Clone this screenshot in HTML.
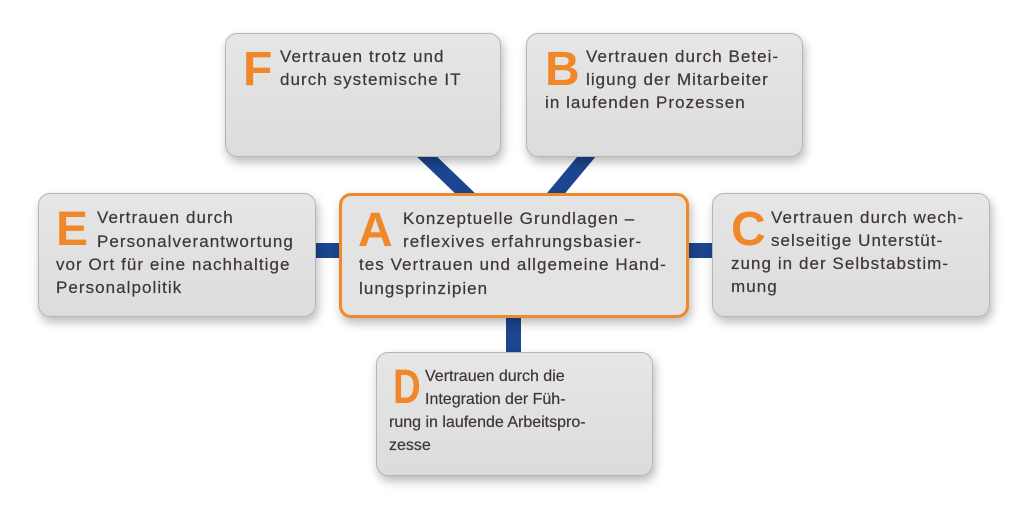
<!DOCTYPE html>
<html><head><meta charset="utf-8"><style>
body{margin:0;width:1024px;height:510px;background:#fff;position:relative;overflow:hidden;font-family:"Liberation Sans",Arial,sans-serif}
.box{position:absolute;background:linear-gradient(#e6e6e6,#dcdcdc);border:1.5px solid #b5b5b5;border-radius:12px;box-shadow:2px 5px 10px rgba(0,0,0,.28);box-sizing:border-box}
.a{border:3px solid #f0892a;background:#e3e3e3}
.L{position:absolute;font-size:48px;font-weight:bold;color:#f0882a;line-height:1}
.t{position:absolute;font-size:17px;letter-spacing:1.05px;color:#3f3535;line-height:22px;white-space:nowrap;-webkit-text-stroke:0.2px #3f3535}
.d{letter-spacing:0;font-size:16px}
.c{position:absolute;background:#1c4690}
</style></head><body>
<svg style="position:absolute;left:0;top:0" width="1024" height="510"><line x1="420" y1="150" x2="470" y2="198" stroke="#1c4690" stroke-width="14"/><line x1="592" y1="150" x2="552" y2="198" stroke="#1c4690" stroke-width="14"/></svg>
<div class="c" style="left:312px;top:243px;width:30px;height:15px"></div>
<div class="c" style="left:685px;top:243px;width:30px;height:15px"></div>
<div class="c" style="left:506px;top:314px;width:15px;height:40px"></div>

<div class="box" style="left:225px;top:33px;width:276px;height:124px"></div>
<div class="L" style="left:243px;top:46px">F</div>
<div class="t" style="left:280px;top:46px">Vertrauen trotz und</div>
<div class="t" style="left:280px;top:69px">durch systemische IT</div>

<div class="box" style="left:526px;top:33px;width:277px;height:124px"></div>
<div class="L" style="left:545px;top:46px">B</div>
<div class="t" style="left:586px;top:46px">Vertrauen durch Betei-</div>
<div class="t" style="left:586px;top:69px">ligung der Mitarbeiter</div>
<div class="t" style="left:545px;top:92px">in laufenden Prozessen</div>

<div class="box" style="left:38px;top:193px;width:278px;height:124px"></div>
<div class="L" style="left:56px;top:206px">E</div>
<div class="t" style="left:97px;top:207px">Vertrauen durch</div>
<div class="t" style="left:97px;top:231px">Personalverantwortung</div>
<div class="t" style="left:56px;top:254px">vor Ort für eine nachhaltige</div>
<div class="t" style="left:56px;top:277px">Personalpolitik</div>

<div class="box a" style="left:339px;top:193px;width:350px;height:125px"></div>
<div class="L" style="left:358px;top:207px">A</div>
<div class="t" style="left:403px;top:208px">Konzeptuelle Grundlagen –</div>
<div class="t" style="left:403px;top:231px">reflexives erfahrungsbasier-</div>
<div class="t" style="left:359px;top:254px">tes Vertrauen und allgemeine Hand-</div>
<div class="t" style="left:359px;top:278px">lungsprinzipien</div>

<div class="box" style="left:712px;top:193px;width:278px;height:124px"></div>
<div class="L" style="left:731px;top:206px">C</div>
<div class="t" style="left:771px;top:207px">Vertrauen durch wech-</div>
<div class="t" style="left:771px;top:230px">selseitige Unterstüt-</div>
<div class="t" style="left:731px;top:253px">zung in der Selbstabstim-</div>
<div class="t" style="left:731px;top:276px">mung</div>

<div class="box" style="left:376px;top:352px;width:277px;height:124px"></div>
<div class="L" style="left:393px;top:364px;transform:scaleX(0.8);transform-origin:left">D</div>
<div class="t d" style="left:425px;top:366px">Vertrauen durch die</div>
<div class="t d" style="left:425px;top:389px">Integration der Füh-</div>
<div class="t d" style="left:389px;top:412px">rung in laufende Arbeitspro-</div>
<div class="t d" style="left:389px;top:435px">zesse</div>
</body></html>
